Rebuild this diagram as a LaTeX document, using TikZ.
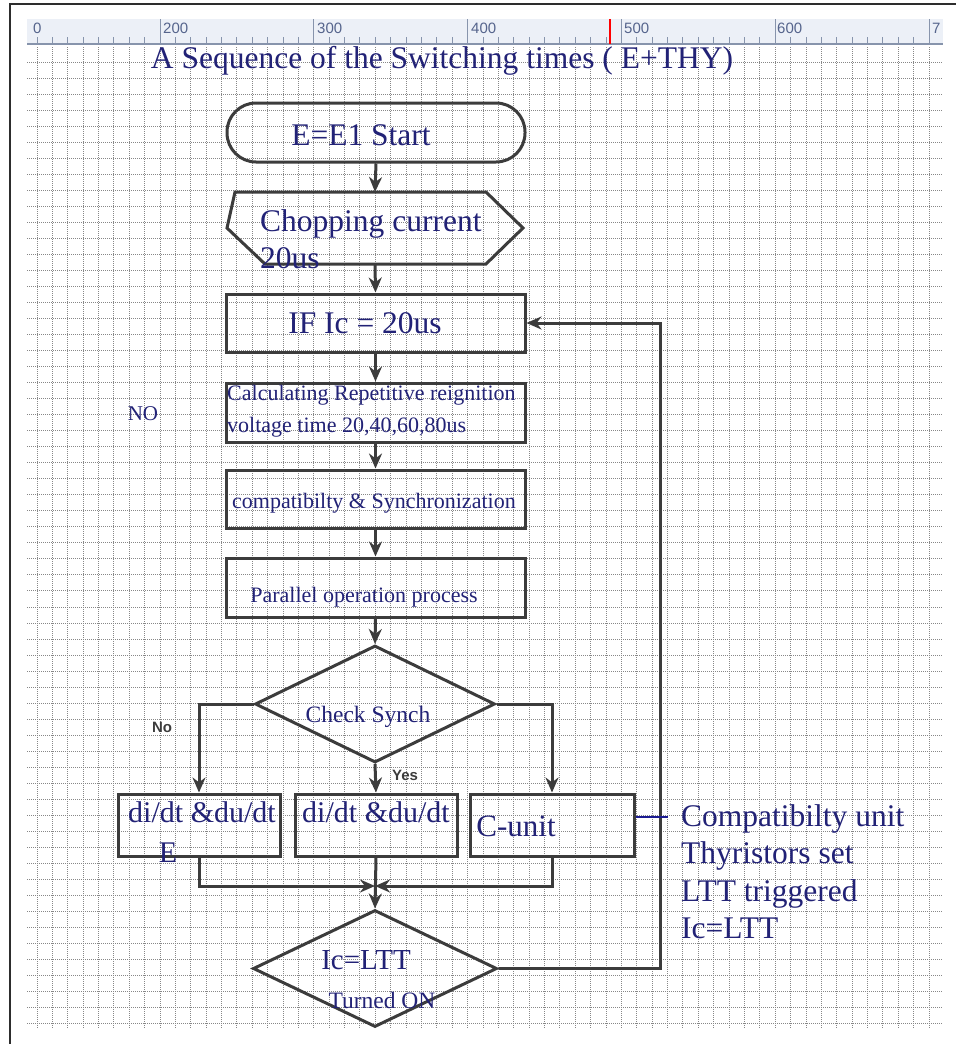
\documentclass[tikz,border=0pt]{standalone}
\usepackage{fontspec}
\setmainfont{Liberation Serif}
\setsansfont{Liberation Sans}
\usepackage{tikz}
\usetikzlibrary{arrows.meta,shapes.geometric}

\definecolor{ink}{RGB}{34,34,118}
\definecolor{edge}{RGB}{60,60,60}
\definecolor{gridc}{RGB}{135,135,135}
\definecolor{rulerbg}{RGB}{236,240,247}
\definecolor{rulerln}{RGB}{135,148,172}
\definecolor{rulertx}{RGB}{85,100,140}

\newcommand{\flbig}{\fontsize{31.5}{37.5}\selectfont}
\newcommand{\flmid}{\fontsize{22}{32}\selectfont}

\tikzset{
  box/.style={draw=edge, line width=3pt, inner sep=0pt},
  txt/.style={text=ink, inner sep=0pt},
  arr/.style={draw=edge, line width=3pt, -{Stealth[length=15pt,width=13pt]}},
  yesno/.style={text=edge, inner sep=0pt, font=\sffamily\bfseries\fontsize{15}{15}\selectfont},
}

\begin{document}
\begin{tikzpicture}[x=1pt,y=-1pt]
\useasboundingbox[fill=white] (0,0) rectangle (956,1044);

% ruler
\fill[rulerbg] (27,19) rectangle (943,44);
\draw[rulerln, line width=1.4pt] (27,44) -- (943,44);
\foreach \i in {0,...,58}
  \draw[rulerln, line width=1pt] ({37+15.38*\i},37) -- ({37+15.38*\i},44);
\foreach \i in {8,18,28,38,48,58}
  \draw[rulerln, line width=1pt] ({37+15.38*\i},19) -- ({37+15.38*\i},44);
\draw[red, line width=1.2pt] (610,19) -- (610,44);
\foreach \x/\t in {33/0,163/200,317/300,471/400,624/500,777/600,932/7}
  \node[anchor=west, inner sep=0pt, text=rulertx, font=\sffamily\fontsize{15}{15}\selectfont] at (\x,28) {\t};

% grid
\foreach \i in {0,...,58}
  \draw[gridc, densely dotted, line width=1pt] ({37+15.38*\i},47) -- ({37+15.38*\i},1028);
\foreach \j in {0,...,60}
  \draw[gridc, densely dotted, line width=1pt] (27,{62+16.03*\j}) -- (943,{62+16.03*\j});

% frame
\draw[line width=2.8pt, color={rgb,255:red,45;green,45;blue,45}] (10,1044) -- (10,4) -- (956,4);

\node[txt, font=\flbig] (title) at (442,61) {A Sequence of the Switching times ( E+THY)};

% flow boxes
\node[box, rounded corners=29pt, minimum width=298pt, minimum height=59pt] (start) at (376,132.5) {};
\node[txt, font=\flbig] (starttx) at (361,135) {E=E1 Start};

\coordinate (hextop) at (375,192);
\coordinate (hexbot) at (375,264);
\draw[edge, line width=3pt] (235,192) -- (486,192) -- (523,228) -- (486,264)
  -- (265,264) -- (227,228) -- cycle;
\node[txt, font=\flbig, anchor=west, align=left] (choptx) at (260,239) {Chopping current\\20us};

\node[box, minimum width=299pt, minimum height=58pt] (ifb) at (375.5,323) {};
\node[txt, font=\flbig] (iftx) at (365,323) {IF Ic = 20us};

\node[box, minimum width=299pt, minimum height=59pt] (calc) at (375.5,412.5) {};
\node[txt, font=\flmid, anchor=west, align=left] (calctx) at (227,411) {Calculating Repetitive reignition\\voltage time 20,40,60,80us};

\node[box, minimum width=299pt, minimum height=58pt] (comp) at (375.5,499) {};
\node[txt, font=\flmid, anchor=west] (comptx) at (232,503) {compatibilty \& Synchronization};

\node[box, minimum width=299pt, minimum height=59pt] (par) at (375.5,587.5) {};
\node[txt, font=\flmid] (partx) at (364,597) {Parallel operation process};

\node[box, diamond, minimum width=240pt, minimum height=117pt] (chk) at (375,704) {};
\node[txt, font=\fontsize{23.5}{23.5}\selectfont] (chktx) at (368,717) {Check Synch};

\node[box, minimum width=162pt, minimum height=62pt] (b1) at (199,825) {};
\node[txt, font=\fontsize{30}{30}\selectfont] (b1tx) at (202,812) {di/dt \&du/dt};
\node[txt, font=\fontsize{30}{30}\selectfont] (b1e) at (168,853) {E};
\node[box, minimum width=162pt, minimum height=62pt] (b2) at (376,825) {};
\node[txt, font=\fontsize{30}{30}\selectfont] (b2tx) at (376,812) {di/dt \&du/dt};
\node[box, minimum width=164pt, minimum height=62pt] (b3) at (552,825) {};
\node[txt, font=\fontsize{31}{31}\selectfont] (b3tx) at (516,826) {C-unit};

\node[box, diamond, minimum width=244pt, minimum height=117pt] (ltt) at (375,968.5) {};
\node[txt, font=\fontsize{29}{29}\selectfont] (ltttx) at (366,960) {Ic=LTT};
\node[txt, font=\fontsize{23.5}{23.5}\selectfont] (lttsub) at (382,1000) {Turned ON};

% side labels
\node[txt, font=\fontsize{21}{21}\selectfont] (nolbl) at (143,414) {NO};
\node[yesno] (nob) at (162,727) {No};
\node[yesno] (yesb) at (405,775) {Yes};
\node[txt, font=\flbig, anchor=west, align=left] (anno) at (681,871.5)
  {Compatibilty unit\\Thyristors set\\LTT triggered\\Ic=LTT};

% connectors
\draw[arr] (start.south) -- (hextop);
\draw[arr] (hexbot) -- (ifb.north);
\draw[arr] (ifb.south) -- (calc.north);
\draw[arr] (calc.south) -- (comp.north);
\draw[arr] (comp.south) -- (par.north);
\draw[arr] (par.south) -- (chk.north);
\draw[arr] (chk.west) -| (b1.north);
\draw[arr] (chk.south) -- (b2.north);
\draw[arr] (chk.east) -| (b3.north);
\coordinate (merge) at (375,886);
\draw[arr] (b1.south) |- (merge);
\draw[arr] (b3.south) |- (merge);
\draw[arr] (b2.south) -- (ltt.north);
% loop back to the Ic test
\coordinate (back) at (660,0);
\draw[arr] (ltt.east) -| (back |- ifb.east) -- (ifb.east);
\coordinate (annoend) at (668,817);
\draw[ink!80!blue, line width=1.2pt] ([yshift=8pt]b3.east) -- (annoend);
\end{tikzpicture}
\end{document}
